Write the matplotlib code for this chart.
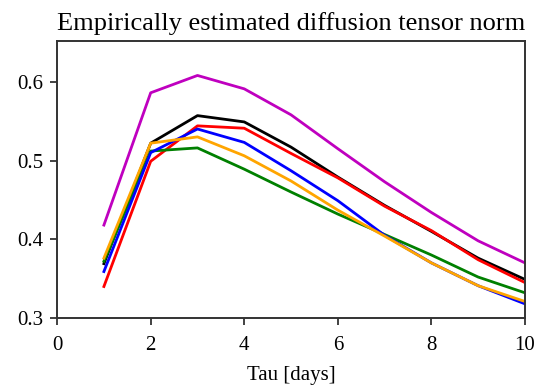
import matplotlib
matplotlib.use("Agg")
import matplotlib.pyplot as plt

plt.rcParams['font.family'] = ['Liberation Serif', 'DejaVu Serif']

tau = [1, 2, 3, 4, 5, 6, 7, 8, 9, 10]
magenta = [0.418, 0.586, 0.608, 0.591, 0.558, 0.515, 0.473, 0.434, 0.398, 0.370]
black = [0.369, 0.522, 0.557, 0.549, 0.517, 0.479, 0.443, 0.410, 0.376, 0.349]
red = [0.340, 0.499, 0.544, 0.541, 0.509, 0.478, 0.442, 0.411, 0.374, 0.345]
blue = [0.359, 0.510, 0.540, 0.523, 0.487, 0.449, 0.405, 0.370, 0.341, 0.318]
orange = [0.376, 0.522, 0.530, 0.506, 0.474, 0.437, 0.404, 0.370, 0.341, 0.321]
green = [0.372, 0.512, 0.516, 0.489, 0.460, 0.432, 0.406, 0.380, 0.352, 0.332]

fig = plt.figure(figsize=(5.44, 3.85), dpi=100)
ax = fig.add_axes([0.105, 0.174, 0.86, 0.72])

ax.plot(tau, magenta, color='m', lw=2)
ax.plot(tau, black, color='k', lw=2)
ax.plot(tau, red, color='r', lw=2)
ax.plot(tau, green, color='g', lw=2)
ax.plot(tau, blue, color='b', lw=2)
ax.plot(tau, orange, color='orange', lw=2)

ax.set_xlim(0, 10)
ax.set_ylim(0.3, 0.652)
ax.set_xticks([0, 2, 4, 6, 8, 10])
ax.set_yticks([0.3, 0.4, 0.5, 0.6])
ax.tick_params(labelsize=15, direction='out', length=5, width=1.3, color='#333333')
ax.tick_params(axis='x', pad=8)
ax.tick_params(axis='y', pad=5)
for s in ax.spines.values():
    s.set_linewidth(1.4)
    s.set_color('#333333')
ax.set_xlabel('Tau [days]', fontsize=15, labelpad=8)
ax.set_title('Empirically estimated diffusion tensor norm', fontsize=19, pad=8)

fig.savefig('out.png', dpi=100)
